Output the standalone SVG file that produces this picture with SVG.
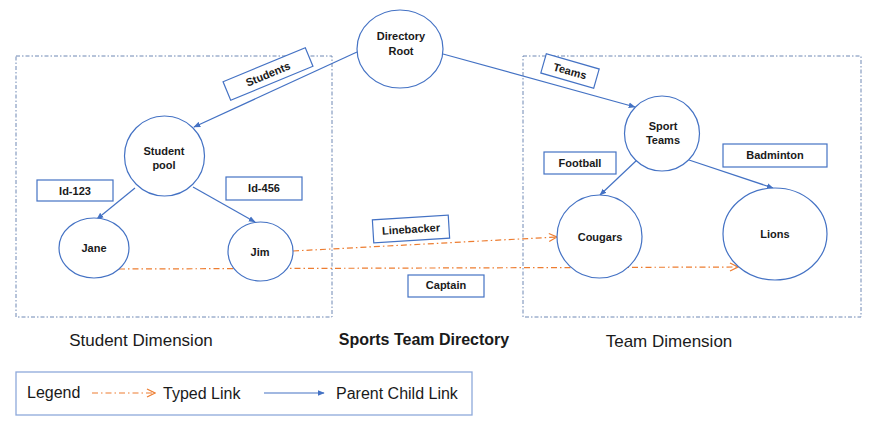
<svg xmlns="http://www.w3.org/2000/svg" width="880" height="425" viewBox="0 0 880 425">
<defs>
<style>
.node{fill:#fff;stroke:#4472C4;stroke-width:1.2}
.lbl{fill:#fff;stroke:#4472C4;stroke-width:1.2}
.nt{font-family:"Liberation Sans",Arial,sans-serif;font-size:11px;font-weight:bold;fill:#1a1a1a;text-anchor:middle}
.big{font-family:"Liberation Sans",Arial,sans-serif;font-size:17px;fill:#1a1a1a;text-anchor:middle}
.leg{font-family:"Liberation Sans",Arial,sans-serif;font-size:16px;fill:#1a1a1a}
.dim{fill:none;stroke:#6F88B4;stroke-width:1;stroke-dasharray:4 2 1.5 2}
.pc{fill:none;stroke:#4472C4;stroke-width:1.2;marker-end:url(#ab)}
.tl{fill:none;stroke:#ED7D31;stroke-width:1.2;stroke-dasharray:6 3 1.5 3;marker-end:url(#ao)}
</style>
<marker id="ab" viewBox="0 0 10 10" refX="9" refY="5" markerWidth="7" markerHeight="7" markerUnits="userSpaceOnUse" orient="auto"><path d="M0,1 L10,5 L0,9 Z" fill="#4472C4"/></marker>
<marker id="ao" viewBox="0 0 10 10" refX="9" refY="5" markerWidth="10" markerHeight="10" markerUnits="userSpaceOnUse" orient="auto"><path d="M1,1 L9,5 L1,9" fill="none" stroke="#ED7D31" stroke-width="1.2"/></marker>
</defs>
<rect width="880" height="425" fill="#fff"/>

<g id="student-dimension"><rect class="dim" x="16" y="56" width="316" height="261"/></g>
<g id="team-dimension"><rect class="dim" x="523" y="56" width="338" height="261"/></g>

<g id="connectors">
<line class="pc" x1="357" y1="52" x2="194" y2="127"/>
<line class="pc" x1="443" y1="54" x2="635" y2="107"/>
<line class="pc" x1="135" y1="188" x2="97" y2="219"/>
<line class="pc" x1="193" y1="187" x2="255" y2="222"/>
<line class="pc" x1="637" y1="160" x2="600" y2="195"/>
<line class="pc" x1="689" y1="160" x2="773" y2="188"/>
<line class="tl" x1="293" y1="251" x2="557" y2="237"/>
<line class="tl" x1="119" y1="269" x2="738" y2="267"/>
</g>

<g id="directory-root"><ellipse class="node" cx="400" cy="49" rx="43" ry="39"/><text class="nt" x="401" y="40">Directory</text><text class="nt" x="401" y="55">Root</text></g>
<g id="student-pool"><ellipse class="node" cx="164.5" cy="156" rx="40" ry="40"/><text class="nt" x="164" y="155">Student</text><text class="nt" x="164" y="169">pool</text></g>
<g id="jane"><ellipse class="node" cx="94" cy="248" rx="35" ry="30"/><text class="nt" x="94" y="252">Jane</text></g>
<g id="jim"><ellipse class="node" cx="260.5" cy="251.5" rx="32.5" ry="29.5"/><text class="nt" x="260" y="256">Jim</text></g>
<g id="sport-teams"><ellipse class="node" cx="662" cy="133.5" rx="37.5" ry="37.5"/><text class="nt" x="663" y="130">Sport</text><text class="nt" x="663" y="144">Teams</text></g>
<g id="cougars"><ellipse class="node" cx="599.5" cy="236.5" rx="42.5" ry="41.5"/><text class="nt" x="600" y="241">Cougars</text></g>
<g id="lions"><ellipse class="node" cx="775" cy="234" rx="52" ry="46"/><text class="nt" x="775" y="238">Lions</text></g>

<g id="label-students" transform="translate(268,74) rotate(-22.5)"><rect class="lbl" x="-44.5" y="-10" width="89" height="20"/><text class="nt" x="0" y="4">Students</text></g>
<g id="label-teams" transform="translate(570,71) rotate(16)"><rect class="lbl" x="-27.5" y="-10" width="55" height="20"/><text class="nt" x="0" y="4">Teams</text></g>
<g id="label-id123"><rect class="lbl" x="37" y="180" width="76" height="21"/><text class="nt" x="75" y="195">Id-123</text></g>
<g id="label-id456"><rect class="lbl" x="226" y="177" width="76" height="23"/><text class="nt" x="264" y="192">Id-456</text></g>
<g id="label-football"><rect class="lbl" x="544" y="152" width="72" height="22"/><text class="nt" x="580" y="167">Football</text></g>
<g id="label-badminton"><rect class="lbl" x="723" y="144" width="104" height="23"/><text class="nt" x="775" y="159">Badminton</text></g>
<g id="label-linebacker" transform="translate(411,229) rotate(-3.5)"><rect class="lbl" x="-38" y="-11.5" width="76" height="23"/><text class="nt" x="0" y="4">Linebacker</text></g>
<g id="label-captain"><rect class="lbl" x="408" y="275" width="76" height="22"/><text class="nt" x="446" y="289">Captain</text></g>

<g id="titles">
<text class="big" x="141" y="346">Student Dimension</text>
<text class="big" x="424" y="345" style="font-weight:bold;font-size:16px">Sports Team Directory</text>
<text class="big" x="669" y="347">Team Dimension</text>
</g>

<g id="legend">
<rect x="16" y="372" width="456" height="43" fill="#fff" stroke="#8EA9DB" stroke-width="1.3"/>
<text class="leg" x="27" y="398">Legend</text>
<line class="tl" x1="92" y1="393" x2="155" y2="393"/>
<text class="leg" x="163" y="399">Typed Link</text>
<line class="pc" x1="264" y1="393" x2="324" y2="393"/>
<text class="leg" x="336" y="399">Parent Child Link</text>
</g>
</svg>
